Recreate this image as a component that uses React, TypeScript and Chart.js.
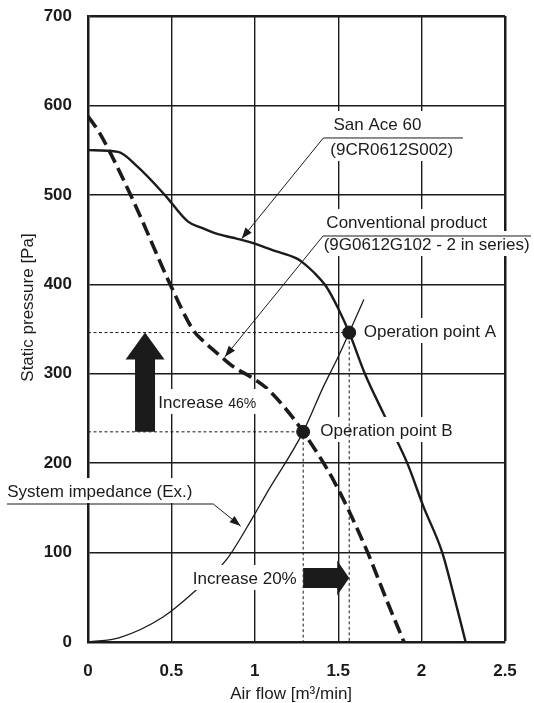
import React, { useEffect, useRef } from 'react';
import { Chart, registerables } from 'chart.js';

Chart.register(...registerables);

// ---------- data ----------
const xTickValues = [0, 0.5, 1, 1.5, 2, 2.5];
const xTickLabels = ['0', '0.5', '1', '1.5', '2', '2.5'];
const yTickValues = [0, 100, 200, 300, 400, 500, 600, 700];
const yTickLabels = ['0', '100', '200', '300', '400', '500', '600', '700'];

const sanAceFlow = [0, 0.18, 0.3, 0.46, 0.6, 0.67, 0.78, 0.87, 0.99, 1.11, 1.25, 1.29, 1.35, 1.43, 1.5, 1.566, 1.66, 1.77, 1.914, 2.01, 2.124, 2.174, 2.264];
const sanAcePressure = [550, 548, 531, 500, 470, 464, 456, 452, 446, 438, 429, 424, 414, 397, 373, 346, 300, 256, 200, 152, 100, 66, 0];

const convFlow = [0, 0.07, 0.27, 0.49, 0.63, 0.7, 0.78, 0.87, 0.98, 1.07, 1.18, 1.29, 1.48, 1.67, 1.79, 1.894];
const convPressure = [588, 569, 494, 401, 349, 335, 322, 308, 296, 284, 262, 235, 178, 103, 47, 0];

const impFlow = [0, 0.19, 0.45, 0.63, 0.83, 0.99, 1.07, 1.29, 1.41, 1.49, 1.566, 1.654];
const impPressure = [0, 5, 28, 55, 92, 140, 166, 235, 285, 315, 346, 383];

const opFlow = [1.566, 1.29];
const opPressure = [346, 235];
const opLabels = ['Operation point A', 'Operation point B'];

const sanAceLabels = ['San Ace 60', '(9CR0612S002)'];
const convLabels = ['Conventional product', '(9G0612G102 - 2 in series)'];
const impLabel = 'System impedance (Ex.)';
const increaseWord = 'Increase ';
const pressureGain = '46%';
const flowGain = '20%';
const xTitle = 'Air flow [m³/min]';
const yTitle = 'Static pressure [Pa]';

// ---------- annotation anchors (data units) ----------
const notes = {
  sanAce: { x: [1.472, 1.453], y: [572.5, 544.6], lineY: 563.6, lineX0: 1.411, lineX1: 2.248, tipX: 0.921, tipY: 451 },
  conv: { x: [1.429, 1.413], y: [463, 438.3], lineY: 454, lineX0: 1.409, lineX1: 2.656, tipX: 0.821, tipY: 319 },
  imp: { x: -0.484, y: 162.1, lineY: 154.3, lineX0: -0.486, lineX1: 0.751, tipX: 0.915, tipY: 129.7 },
  opA: { x: 1.653, y: 341 },
  opB: { x: 1.393, y: 230.4 },
  inc46: { x: 0.421, y: 261.7, arrowX: 0.342 },
  inc20: { x: 0.628, y: 64.9, arrowY: 71.6 },
  xTitle: { x: 1.218 },
  yTitle: { y: 374 },
};

const INK = '#1b1b1b';
const FAMILY = '"Liberation Sans", Arial, Helvetica, sans-serif';
const TEXT_FONT = `17px ${FAMILY}`;

const toXY = (xs: number[], ys: number[]) => xs.map((x, i) => ({ x, y: ys[i] }));

function arrowHead(ctx: CanvasRenderingContext2D, fx: number, fy: number, tx: number, ty: number, len = 11, half = 4) {
  const a = Math.atan2(ty - fy, tx - fx);
  ctx.beginPath();
  ctx.moveTo(tx, ty);
  ctx.lineTo(tx - len * Math.cos(a) + half * Math.sin(a), ty - len * Math.sin(a) - half * Math.cos(a));
  ctx.lineTo(tx - len * Math.cos(a) - half * Math.sin(a), ty - len * Math.sin(a) + half * Math.cos(a));
  ctx.closePath();
  ctx.fill();
}

const textBoxes = (chart: any) => {
  const X = (v: number) => chart.scales.x.getPixelForValue(v);
  const Y = (v: number) => chart.scales.y.getPixelForValue(v);
  const items: { text: string; x: number; y: number }[] = [
    { text: sanAceLabels[0], x: X(notes.sanAce.x[0]), y: Y(notes.sanAce.y[0]) },
    { text: sanAceLabels[1], x: X(notes.sanAce.x[1]), y: Y(notes.sanAce.y[1]) },
    { text: convLabels[0], x: X(notes.conv.x[0]), y: Y(notes.conv.y[0]) },
    { text: convLabels[1], x: X(notes.conv.x[1]), y: Y(notes.conv.y[1]) },
    { text: opLabels[0], x: X(notes.opA.x), y: Y(notes.opA.y) },
    { text: opLabels[1], x: X(notes.opB.x), y: Y(notes.opB.y) },
    { text: impLabel, x: X(notes.imp.x), y: Y(notes.imp.y) },
    { text: increaseWord + flowGain, x: X(notes.inc20.x), y: Y(notes.inc20.y) },
  ];
  return items;
};

const annotationPlugin = {
  id: 'fanAnnotations',
  afterDatasetDraw(chart: any, args: any) {
    // after the last fan curve is drawn, lay white boxes behind the labels
    if (chart.data.datasets[args.index].label !== 'San Ace 60') return;
    const ctx = chart.ctx;
    const X = (v: number) => chart.scales.x.getPixelForValue(v);
    const Y = (v: number) => chart.scales.y.getPixelForValue(v);
    ctx.save();
    ctx.font = TEXT_FONT;
    ctx.fillStyle = '#ffffff';
    for (const it of textBoxes(chart)) {
      const w = ctx.measureText(it.text).width;
      ctx.fillRect(it.x - 2, it.y - 19, w + 4, 25);
    }
    const ix = X(notes.inc46.x);
    const iy = Y(notes.inc46.y);
    ctx.fillRect(ix - 2, iy - 19, 112, 25);
    ctx.restore();
  },
  afterDatasetsDraw(chart: any) {
    const ctx = chart.ctx;
    const X = (v: number) => chart.scales.x.getPixelForValue(v);
    const Y = (v: number) => chart.scales.y.getPixelForValue(v);
    ctx.save();
    ctx.fillStyle = INK;
    ctx.strokeStyle = INK;

    // up arrow (pressure increase) from point B level to point A level
    {
      const cx = X(notes.inc46.arrowX);
      const yb = Y(opPressure[1]);
      const yt = Y(opPressure[0]);
      const sh = 10, hh = 19.5, hl = 27;
      ctx.beginPath();
      ctx.moveTo(cx - sh, yb);
      ctx.lineTo(cx - sh, yt + hl);
      ctx.lineTo(cx - hh, yt + hl);
      ctx.lineTo(cx, yt);
      ctx.lineTo(cx + hh, yt + hl);
      ctx.lineTo(cx + sh, yt + hl);
      ctx.lineTo(cx + sh, yb);
      ctx.closePath();
      ctx.fill();
    }
    // right arrow (flow increase) from point B flow to point A flow
    {
      const cy = Y(notes.inc20.arrowY);
      const xl = X(opFlow[1]);
      const xr = X(opFlow[0]);
      const sh = 10, hh = 17.5, hl = 12;
      ctx.beginPath();
      ctx.moveTo(xl, cy - sh);
      ctx.lineTo(xr - hl, cy - sh);
      ctx.lineTo(xr - hl, cy - hh);
      ctx.lineTo(xr, cy);
      ctx.lineTo(xr - hl, cy + hh);
      ctx.lineTo(xr - hl, cy + sh);
      ctx.lineTo(xl, cy + sh);
      ctx.closePath();
      ctx.fill();
    }

    // texts
    ctx.font = TEXT_FONT;
    ctx.textBaseline = 'alphabetic';
    ctx.textAlign = 'left';
    for (const it of textBoxes(chart)) ctx.fillText(it.text, it.x, it.y);
    {
      const ix = X(notes.inc46.x);
      const iy = Y(notes.inc46.y);
      ctx.fillText(increaseWord, ix, iy);
      const w = ctx.measureText(increaseWord).width;
      ctx.font = `14px ${FAMILY}`;
      ctx.fillText(pressureGain, ix + w, iy);
      ctx.font = TEXT_FONT;
    }

    // leader lines: label underline, then a thin line to an arrow tip on the curve
    ctx.lineWidth = 1;
    const leaders = [
      { n: notes.sanAce, fromRight: false },
      { n: notes.conv, fromRight: false },
      { n: notes.imp, fromRight: true },
    ];
    for (const { n, fromRight } of leaders) {
      const y0 = Y(n.lineY);
      const bendX = fromRight ? X(n.lineX1) : X(n.lineX0);
      const farX = fromRight ? X(n.lineX0) : X(n.lineX1);
      ctx.beginPath();
      ctx.moveTo(farX, y0);
      ctx.lineTo(bendX, y0);
      ctx.lineTo(X(n.tipX), Y(n.tipY));
      ctx.stroke();
      arrowHead(ctx, bendX, y0, X(n.tipX), Y(n.tipY));
    }

    // axis titles
    ctx.font = TEXT_FONT;
    ctx.textAlign = 'center';
    ctx.textBaseline = 'alphabetic';
    ctx.fillText(xTitle, X(notes.xTitle.x), chart.chartArea.bottom + 57);
    ctx.translate(chart.chartArea.left - 55, Y(notes.yTitle.y));
    ctx.rotate(-Math.PI / 2);
    ctx.fillText(yTitle, 0, 0);
    ctx.restore();
  },
};

export default function App() {
  const ref = useRef<HTMLCanvasElement | null>(null);

  useEffect(() => {
    document.body.style.margin = '0';
    const canvas = ref.current;
    if (!canvas) return;

    const gridWidth = (ctx: any, max: number) => (ctx.tick && ctx.tick.value === max ? 2.5 : 1.4);

    const chart = new Chart(canvas, {
      type: 'scatter',
      data: {
        datasets: [
          {
            label: 'Operation points',
            data: toXY(opFlow, opPressure),
            pointRadius: 6.5,
            pointBackgroundColor: INK,
            pointBorderColor: INK,
            showLine: false,
            order: 0,
          },
          {
            label: 'Point A guide',
            data: [
              { x: 0, y: opPressure[0] },
              { x: opFlow[0], y: opPressure[0] },
              { x: opFlow[0], y: 0 },
            ],
            showLine: true,
            borderColor: INK,
            borderWidth: 1,
            borderDash: [3, 2.5],
            pointRadius: 0,
            tension: 0,
            order: 1,
          },
          {
            label: 'Point B guide',
            data: [
              { x: 0, y: opPressure[1] },
              { x: opFlow[1], y: opPressure[1] },
              { x: opFlow[1], y: 0 },
            ],
            showLine: true,
            borderColor: INK,
            borderWidth: 1,
            borderDash: [3, 2.5],
            pointRadius: 0,
            tension: 0,
            order: 1,
          },
          {
            label: 'San Ace 60',
            data: toXY(sanAceFlow, sanAcePressure),
            showLine: true,
            borderColor: INK,
            borderWidth: 2.4,
            pointRadius: 0,
            cubicInterpolationMode: 'monotone',
            order: 2,
          },
          {
            label: 'Conventional product',
            data: toXY(convFlow, convPressure),
            showLine: true,
            borderColor: INK,
            borderWidth: 3.6,
            borderDash: [14, 6],
            pointRadius: 0,
            cubicInterpolationMode: 'monotone',
            order: 3,
          },
          {
            label: 'System impedance',
            data: toXY(impFlow, impPressure),
            showLine: true,
            borderColor: INK,
            borderWidth: 1.3,
            pointRadius: 0,
            cubicInterpolationMode: 'monotone',
            order: 4,
          },
        ],
      },
      options: {
        animation: false,
        responsive: false,
        devicePixelRatio: 1,
        layout: { padding: { top: 16, right: 29, left: 0, bottom: 0 } },
        plugins: {
          legend: { display: false },
          tooltip: { enabled: false },
        },
        scales: {
          x: {
            type: 'linear',
            min: 0,
            max: 2.5,
            afterFit: (s: any) => { s.height = 61; s.paddingLeft = 0; s.paddingRight = 0; },
            afterBuildTicks: (s: any) => { s.ticks = xTickValues.map((v) => ({ value: v })); },
            ticks: {
              padding: 19,
              color: INK,
              font: { family: FAMILY, size: 17, weight: 'bold' },
              callback: (v: any) => xTickLabels[xTickValues.indexOf(Number(v))] ?? '',
            },
            grid: { color: INK, lineWidth: (c: any) => gridWidth(c, 2.5), drawTicks: false },
            border: { display: true, color: INK, width: 2.5 },
          },
          y: {
            type: 'linear',
            min: 0,
            max: 700,
            afterFit: (s: any) => { s.width = 88; s.paddingTop = 0; s.paddingBottom = 0; },
            afterBuildTicks: (s: any) => { s.ticks = yTickValues.map((v) => ({ value: v })); },
            ticks: {
              padding: 16,
              color: INK,
              font: { family: FAMILY, size: 17, weight: 'bold' },
              callback: (v: any) => yTickLabels[yTickValues.indexOf(Number(v))] ?? '',
            },
            grid: { color: INK, lineWidth: (c: any) => gridWidth(c, 700), drawTicks: false },
            border: { display: true, color: INK, width: 2.5 },
          },
        },
      },
      plugins: [annotationPlugin],
    } as any);

    return () => chart.destroy();
  }, []);

  return <canvas ref={ref} width={534} height={703} style={{ display: 'block' }} />;
}
